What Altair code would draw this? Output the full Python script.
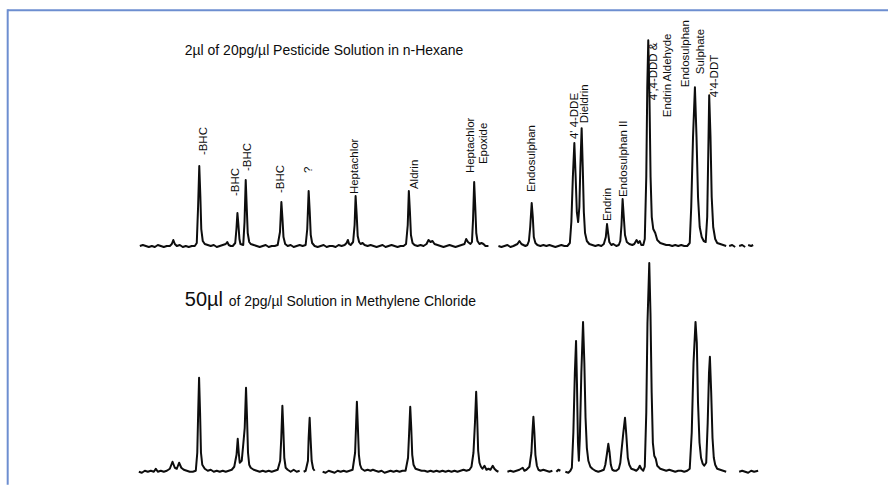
import altair as alt
import pandas as pd

# ---------------- data ----------------
# Upper chromatogram: 2 µl of 20 pg/µl in n-hexane. x = retention (arbitrary units), y = detector response
T1_SEG = [
    [(140,1),(143,2),(146,1),(149,0),(152,1),(155,0),(158,2),(161,1),(164,0),(167,1),(170,1),(172,3),(173.5,7),(175,3),(177,1),
     (180,2),(183,0),(186,1),(189,0),(192,1),(195,1),
     (197,4),(198.3,40),(199.5,81),(200.6,50),(201.5,18),(203,6),(205,3),(208,2),(211,1),
     (214,2),(217,0),(220,1),(223,2),(226,3),(227.5,5),(229,2),(231,1),(233,1),
     (235.5,4),(236.7,18),(237.7,34),(238.7,22),(239.7,8),(240.7,3),
     (243.5,2),(244.8,25),(246,67),(247,40),(248,14),(249.5,5),(251,3),(254,2),(257,1),(260,0),(263,1),(266,2),(269,0),(272,1),(275,1),(278,2),
     (280.3,15),(281.7,45),(282.8,28),(283.8,10),(285.5,3),(288,1),(291,2),(294,0),(297,1),(300,2),(303,1),(306,2),
     (307.6,18),(309,56),(310.1,35),(311.1,12),(312.5,4),(315,1),(318,0),(321,1),(324,2),(327,0),(330,1),(333,1),(336,0),(339,2),(342,1),(345,2),
     (347,4),(348.3,7),(349.5,3),(351,2),(353.5,5),
     (355,22),(356,51),(357.1,32),(358.1,11),(359.5,5),(361,3),(363,4),(365,2),(368,1),(371,2),(374,1),(377,0),(380,1),(383,2),(386,0),
     (389,1),(392,2),(395,1),(398,0),(401,1),(404,1),(406.5,3),
     (408.2,22),(409.3,56),(410.4,35),(411.4,12),(413,4),(415,2),(418,1),(421,2),(424,1),(427,3),(429,7),(431,5),(433,6),(435,3),
     (438,2),(441,1),(444,0),(447,1),(450,2),(453,1),(456,0),(459,1),(462,2),(465,3),(466.7,8),(468.5,5),(471,3),
     (472.5,5),(473.6,28),(474.7,65),(475.8,40),(476.8,14),(478,6),(480,3),(482,4),(484,3),(486,1),(489,1)],
    [(499,1),(502,0),(505,1),(508,2),(511,0),(514,1),(516,2),(518,3),(520,6),(522,3),(524,2),(526,1),(528,2),(529.5,6),
     (530.8,20),(532.3,44),(533.4,30),(534.4,10),(536,4),(538,2),(541,1),(544,2),(547,1),(550,2),(553,1),(556,0),(559,1),(562,2),(565,1),(568,1),(570.5,4),
     (572,25),(573.5,70),(575,104),(576.3,70),(577.5,35),(578.8,25),(580,40),
     (581,80),(582.3,119),(583.4,80),(584.5,35),(585.7,14),(587.5,6),(590,3),(593,2),(596,1),(599,2),(602,1),(604.5,3),
     (606.5,10),(607.7,23),(608.8,14),(610,5),(612,2),(614,3),(617,1),(619.5,2),(621,6),
     (622.2,22),(623.3,48),(624.5,30),(625.7,12),(627.5,5),(630,3),(633,2),(635,3),(637.3,7),(639,4),(640.5,6),(642,2),(644,2),(645.5,8),
     (647,70),(648,160),(649,207),(650.2,150),(651.3,70),(652.5,30),(654,18),(656,14),(658,7),(661,4),(664,3),(667,2),(670,2),(673,1),
     (676,2),(679,1),(682,2),(685,1),(688,1),(690.5,4),
     (692,40),(693.8,110),(695.7,160),(697.3,110),(698.8,50),(700.5,20),(702.5,10),(704.5,6),(706.5,5),
     (708,30),(709,90),(710,152),(711.3,110),(712.5,50),(714,20),(716,8),(718,4),(721,3),(724,2),(727,1)],
    [(730,1),(733,2),(736,0)],
    [(740,1),(743,2),(746,0)],
    [(749,2),(752,1),(754,2)],
]

# Lower chromatogram: 50 µl of 2 pg/µl in methylene chloride
T2_SEG = [
    [(139,1),(142,0),(145,2),(148,1),(151,2),(154,1),(156,4),(158,1),(161,2),(164,1),(167,2),(170,4),(172.7,11),(175,5),(177,4),
     (179.3,10),(181.5,5),(184,3),(187,2),(190,1),(193,1),(196,2),
     (197.5,20),(198.4,60),(199.3,95),(200.3,60),(201.2,20),(202.5,8),(205,4),(208,2),(211,3),(214,1),(217,2),(220,1),(223,2),
     (226,1),(229,2),(232,3),(234.5,6),
     (236.8,18),(238,34),(239,20),(240,10),(242,12),(243.5,28),(245,45),(246.3,85),(247.3,55),(248.3,20),(249.5,8),(251,5),
     (254,3),(257,2),(260,1),(263,2),(266,1),(269,2),(272,1),(275,2),(278,3),(280.5,12),
     (281.6,35),(282.7,67),(283.6,45),(284.6,15),(286,5),(288,3),(291,1),(294,3),(297,1),(300,2)],
    [(304,1),(306,2),(308.3,12),(309,35),(310,55),(310.9,35),(312,12),(313.5,4),(315,2)],
    [(323,1),(326,0),(329,2),(332,1),(335,0),(338,2),(341,1),(344,2),(347,1),(350,2),(353,3),
     (355.5,20),(357.3,71),(358.3,45),(359.3,18),(360.5,8),(362,4),(365,2),(368,3),(371,2),(373.3,3),(376,2),(379,1),(382,2),
     (385,0),(388,1),(391,2),(394,1),(397,2),(400,1),(403,2),(406,2),
     (408.5,15),(409.6,40),(410.7,66),(411.7,45),(412.7,18),(414,8),(416,4),(419,3),(422,2),(425,2),(428,1),(431,2),(434,1),
     (437,2),(440,1),(443,2),(446,1),(449,2),(452,1),(455,2),(458,1),(461,2),(464,3),(467,2),(470,3),(472,6),
     (474,20),(475.5,50),(476.7,81),(477.7,55),(478.7,22),(480,10),(481.5,6),(483,4),(485,7),(487,3),(489,4),(491,3),
     (493.3,7),(495,4),(497,2),(499,1)],
    [(508,1),(511,2),(514,1),(517,2),(520,3),(523.3,5),(525,2),(527,3),(530,6),
     (532,20),(533,40),(534,56),(535,40),(536,18),(537.5,7),(539,3),(541,2),(544,3),(547,2),(550,1),(553,2)],
    [(557,1),(559,3),(561,2)],
    [(566,1),(569,0),(571,2),(572.5,5),(574,40),(575.5,100),(576.7,132),(577.6,90),(578.6,30),(579.5,12),
     (580.5,35),(582,100),(583.7,151),(585,110),(586.2,55),(587.5,25),(589,12),(591,6),(593,4),(596,2),(599,1),(602,2),(604.5,3),
     (606,8),(607.5,18),(609,29),(610.3,20),(611.5,8),(613,3),(615,2),(617,2),(619.5,4),
     (621,10),(622.5,25),(624,40),(625.7,55),(627,38),(628.5,15),(630,8),(632,4),(635,3),(637,2),(639,4),(640.5,7),(642,4),(644,2),(645.5,6),
     (647,60),(648.2,150),(650,210),(651.2,160),(652.4,80),(653.6,30),(655,17),(656.5,14),(658,7),(661,4),(664,3),(667,2),(670,3),
     (673,2),(676,1),(679,2),(682,2),(685,1),(688,2),(690.5,4),
     (692.5,40),(694.3,110),(696.3,151),(697.6,130),(698.8,70),(700.3,30),(701.8,15),(703.5,9),(705,7),
     (707,10),(708.5,50),(709.8,100),(710.7,116),(712,80),(713.3,35),(714.6,15),(716,8),(718,4),(721,3),(724,2),(727,1)],
    [(740,1),(743,2),(746,1),(749,0),(752,2),(755,1),(759,2)],
]

# peak labels (upper trace): text, retention position, response level at text start
LABEL_TEXT = ["-BHC", "-BHC", "-BHC", "-BHC", "?", "Heptachlor", "Aldrin", "Heptachlor", "Epoxide",
              "Endosulphan", "4' 4-DDE", "Dieldrin", "Endrin", "Endosulphan II", "4',4-DDD &",
              "Endrin Aldehyde", "Endosulphan", "Sulphate", "4'4-DDT"]
LABEL_X = [204, 236, 248.5, 281, 309.3, 355.3, 415.7, 471.7, 484.3,
           532.7, 575.7, 585.7, 608.3, 625, 655, 669, 686.7, 701.7, 716]
LABEL_Y = [92, 51, 76, 54, 74, 53, 58, 74, 83,
           55, 108, 124, 26, 50, 147, 130, 160, 173, 150]

TITLE1 = "2µl of 20pg/µl Pesticide Solution in n-Hexane"
TITLE2_BIG = "50µl"
TITLE2_REST = "of 2pg/µl Solution in Methylene Chloride"

# ---------------- build tables ----------------
def to_df(segs):
    rows = []
    k = 0
    for s, seg in enumerate(segs):
        for x, y in seg:
            rows.append({"t": x, "r": y, "seg": s, "i": k})
            k += 1
    return pd.DataFrame(rows)

df1 = to_df(T1_SEG)
df2 = to_df(T2_SEG)
lab = pd.DataFrame({"text": LABEL_TEXT, "t": LABEL_X, "r": LABEL_Y})

W = 889
FONT = "Liberation Sans"
FRAME = "#6d8ed0"
INK = "#0d0d0d"

xs = alt.Scale(domain=[0, W], nice=False, zero=False)
ys1 = alt.Scale(domain=[-3, 247], nice=False, zero=False)
ys2 = alt.Scale(domain=[-12, 223], nice=False, zero=False)

def trace(df, ys):
    return alt.Chart(df).mark_line(color=INK, strokeWidth=2, strokeJoin="round").encode(
        x=alt.X("t:Q", scale=xs, axis=None),
        y=alt.Y("r:Q", scale=ys, axis=None),
        detail="seg:N",
        order="i:Q",
    )

line1 = trace(df1, ys1)
line2 = trace(df2, ys2)

labels = alt.Chart(lab).mark_text(angle=270, align="left", baseline="middle",
                                  font=FONT, fontSize=11.5, color=INK).encode(
    x=alt.X("t:Q", scale=xs, axis=None),
    y=alt.Y("r:Q", scale=ys1, axis=None),
    text="text:N",
)

t1 = alt.Chart(pd.DataFrame({"text": [TITLE1], "t": [185], "r": [192]})).mark_text(
    align="left", baseline="alphabetic", font=FONT, fontSize=14, color=INK).encode(
    x=alt.X("t:Q", scale=xs, axis=None), y=alt.Y("r:Q", scale=ys1, axis=None), text="text:N")

t2a = alt.Chart(pd.DataFrame({"text": [TITLE2_BIG], "t": [185], "r": [167]})).mark_text(
    align="left", baseline="alphabetic", font=FONT, fontSize=20, color=INK).encode(
    x=alt.X("t:Q", scale=xs, axis=None), y=alt.Y("r:Q", scale=ys2, axis=None), text="text:N")
t2b = alt.Chart(pd.DataFrame({"text": [TITLE2_REST], "t": [229], "r": [167]})).mark_text(
    align="left", baseline="alphabetic", font=FONT, fontSize=14, color=INK).encode(
    x=alt.X("t:Q", scale=xs, axis=None), y=alt.Y("r:Q", scale=ys2, axis=None), text="text:N")

frame_top = alt.Chart(pd.DataFrame({"a": [0]})).mark_rule(color=FRAME, strokeWidth=2).encode(
    x=alt.value(7.7), x2=alt.value(W), y=alt.value(10))
frame_left = alt.Chart(pd.DataFrame({"a": [0]})).mark_rule(color=FRAME, strokeWidth=2).encode(
    x=alt.value(7.7), y=alt.value(9), y2=alt.value(485))

top = alt.layer(line1, labels, t1, frame_top, frame_left).properties(width=W, height=250)
bottom = alt.layer(line2, t2a, t2b).properties(width=W, height=235)

chart = alt.vconcat(top, bottom, spacing=0, bounds="flush").properties(
    padding=0, background="white").configure_view(strokeWidth=0).configure_concat(spacing=0)

chart.save("out.html", embed_options={"renderer": "svg", "actions": False})
